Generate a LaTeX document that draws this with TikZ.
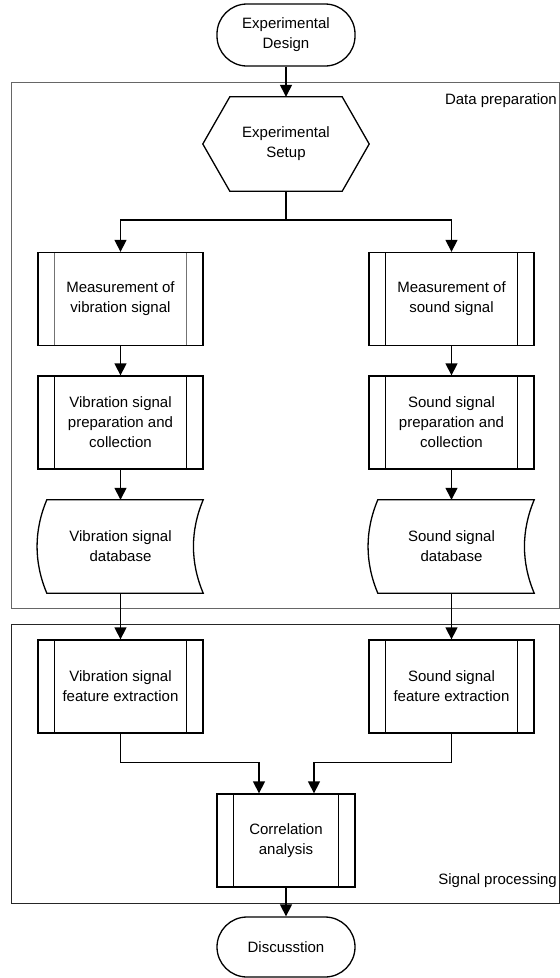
\documentclass[tikz,border=0pt]{standalone}
\usepackage{fontspec}
\setmainfont{Liberation Sans}
\usetikzlibrary{arrows.meta,calc}
\begin{document}
\begin{tikzpicture}[x=1pt,y=-1pt,
  every node/.style={font=\fontsize{15}{20}\selectfont, align=center, inner sep=0pt},
  shp/.style={line width=1.3pt},
  term/.style={shp, draw, rounded corners=30pt, minimum width=138pt},
  proc/.style={shp, draw, minimum width=165pt, minimum height=93pt,
    path picture={\draw[line width=1.3pt,#1]
      ([xshift=16.5pt]path picture bounding box.north west) -- ([xshift=16.5pt]path picture bounding box.south west)
      ([xshift=-16.5pt]path picture bounding box.north east) -- ([xshift=-16.5pt]path picture bounding box.south east);}},
  proc/.default=black,
  blank/.style={minimum width=165pt, minimum height=93pt},
  arr/.style={line width=1.3pt, -{Triangle[width=12pt,length=12pt]}},
  ln/.style={line width=1.3pt},
  grp/.style={line width=1pt}
]
\useasboundingbox (0,0) rectangle (560,978);

% group boxes
\draw[grp, draw=black!60] (11,82) rectangle (559,608);
\draw[grp, draw=black!85] (11,624) rectangle (559,903);
\node[anchor=east] (lbl1) at (557,101) {Data preparation};
\node[anchor=east] (lbl2) at (557,881) {Signal processing};

% nodes
\node[term, minimum height=62pt] (design) at (286,35) {Experimental\\Design};
\node[minimum width=166pt, minimum height=94pt] (setup) at (286,144) {Experimental\\Setup};
\draw[shp] ($(setup.north west)+(27,0)$) -- ($(setup.north east)+(-27,0)$) -- (setup.east)
  -- ($(setup.south east)+(-27,0)$) -- ($(setup.south west)+(27,0)$) -- (setup.west) -- cycle;

\node[proc=black!55] (m1) at (120.5,299) {Measurement of\\vibration signal};
\node[proc] (m2) at (451.5,299) {Measurement of\\sound signal};
\node[proc] (p1) at (120.5,422.5) {Vibration signal\\preparation and\\collection};
\node[proc] (p2) at (451.5,422.5) {Sound signal\\preparation and\\collection};

\node[blank] (db1) at (120.5,546.5) {Vibration signal\\database};
\node[blank] (db2) at (451.5,546.5) {Sound signal\\database};
\foreach \n in {db1,db2}{
  \draw[shp] ($(\n.north west)+(9,0)$) -- (\n.north east)
    .. controls ($(\n.north east)+(-13,31)$) and ($(\n.south east)+(-13,-31)$) .. (\n.south east)
    -- ($(\n.south west)+(9,0)$)
    .. controls ($(\n.south west)+(-4,-31)$) and ($(\n.north west)+(-4,31)$) .. ($(\n.north west)+(9,0)$) -- cycle;
}

\node[proc] (f1) at (120.5,686.5) {Vibration signal\\feature extraction};
\node[proc] (f2) at (451.5,686.5) {Sound signal\\feature extraction};
\node[proc, minimum width=138pt] (corr) at (286,840.5) {Correlation\\analysis};
\node[term, minimum height=60pt] (disc) at (286,947) {Discusstion};

% connectors
\draw[arr] (design) -- (setup);
\coordinate (split) at (286,220);
\draw[ln] (setup.south) -- (split);
\draw[arr] (split) -| (m1.north);
\draw[arr] (split) -| (m2.north);
\draw[arr] (m1) -- (p1);
\draw[arr] (m2) -- (p2);
\draw[arr] (p1) -- (db1);
\draw[arr] (p2) -- (db2);
\draw[arr] (db1) -- (f1);
\draw[arr] (db2) -- (f2);
\draw[arr] (f1.south) -- ++(0,29) -| ([xshift=-27pt]corr.north);
\draw[arr] (f2.south) -- ++(0,29) -| ([xshift=28pt]corr.north);
\draw[arr] (corr) -- (disc);
\end{tikzpicture}
\end{document}
